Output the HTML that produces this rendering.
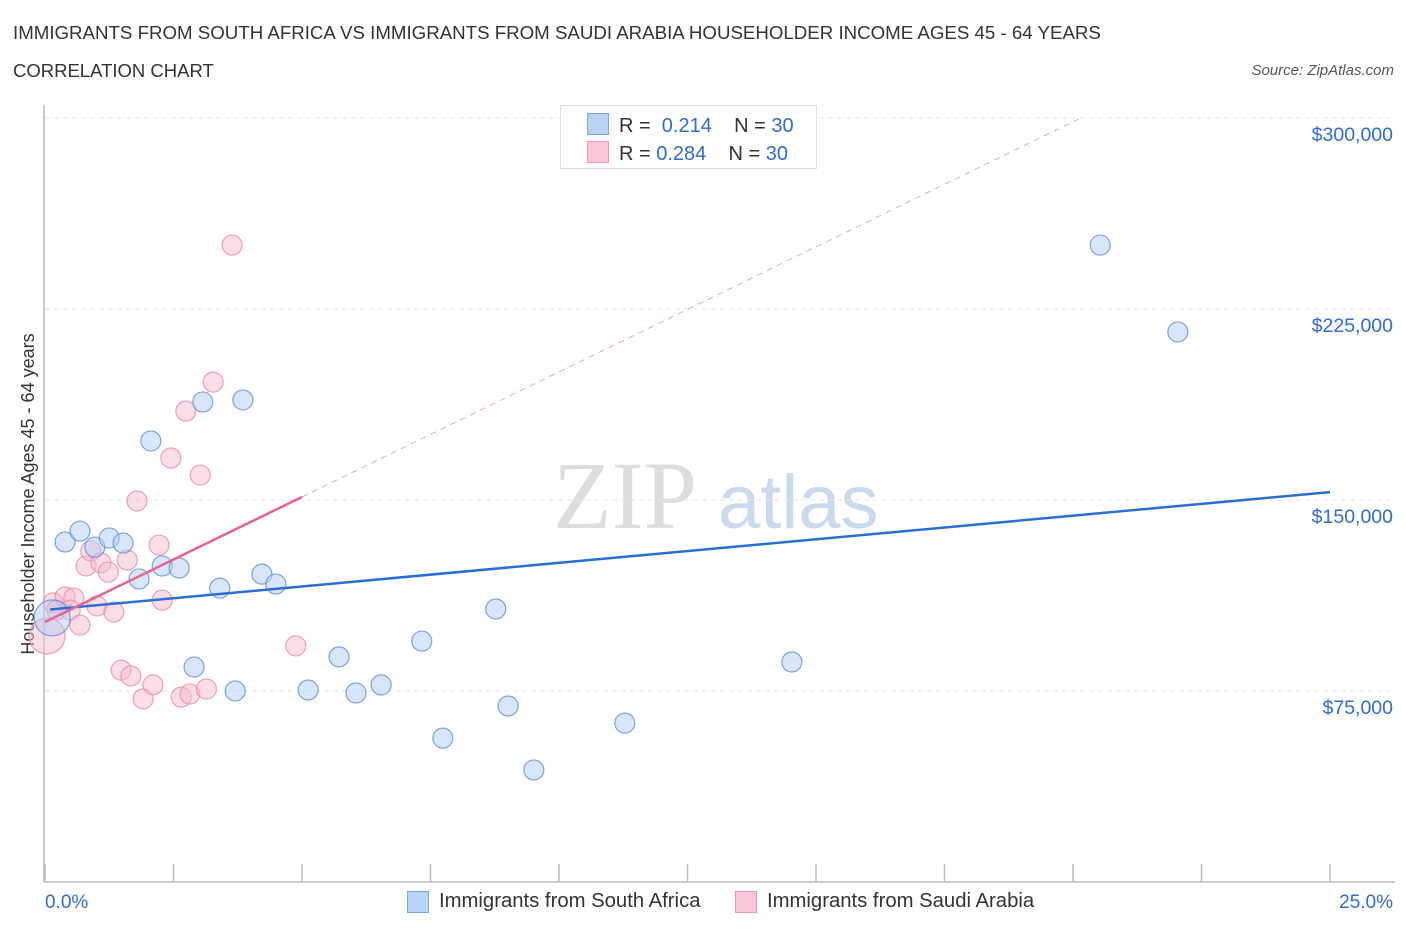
<!DOCTYPE html>
<html><head><meta charset="utf-8"><style>
body{margin:0;background:#fff;font-family:"Liberation Sans",sans-serif;}
#wrap{position:relative;width:1406px;height:930px;overflow:hidden;}
.sw{position:absolute;width:20px;height:20px;}
</style></head><body>
<div id="wrap">
<div style="position:absolute;left:13px;top:22px;font-size:18.7px;color:#333;">IMMIGRANTS FROM SOUTH AFRICA VS IMMIGRANTS FROM SAUDI ARABIA HOUSEHOLDER INCOME AGES 45 - 64 YEARS</div>
<div style="position:absolute;left:13px;top:60px;font-size:18.5px;color:#333;">CORRELATION CHART</div>
<div style="position:absolute;right:12px;top:62px;font-size:15px;color:#555;font-style:italic;">Source: ZipAtlas.com</div>
<svg id="plot" width="1406" height="930" style="position:absolute;left:0;top:0">
<text x="553" y="528" font-family="Liberation Serif,serif" font-size="96" fill="#ddd">ZIP</text>
<text x="718" y="528" font-family="Liberation Sans,sans-serif" font-size="76" fill="#c9d9ee">atlas</text>
<text transform="translate(34,494) rotate(-90)" text-anchor="middle" font-size="18" fill="#333">Householder Income Ages 45 - 64 years</text>
</svg>
<div style="position:absolute;left:560px;top:105px;width:255px;height:62px;border:1px solid #ddd;background:#fff;font-size:20px;color:#333;">
 <div style="position:absolute;left:26px;top:7px;white-space:pre;"><span style="display:inline-block;width:20px;height:20px;background:#b9d3f5;border:1px solid #7aa6e4;vertical-align:-3px;margin-right:10px"></span>R =  <span style="color:#2f6bd1">0.214</span>    N = <span style="color:#2f6bd1">30</span></div>
 <div style="position:absolute;left:26px;top:35px;white-space:pre;"><span style="display:inline-block;width:20px;height:20px;background:#f9c8d6;border:1px solid #ec95ae;vertical-align:-3px;margin-right:10px"></span>R = <span style="color:#2f6bd1">0.284</span>    N = <span style="color:#2f6bd1">30</span></div>
</div>
<div style="position:absolute;left:0;top:0;font-size:20.3px;color:#333;">
 <div class="sw" style="left:407px;top:891px;background:#b9d3f5;border:1px solid #7aa6e4;"></div>
 <div style="position:absolute;left:439px;top:890px;white-space:nowrap;">Immigrants from South Africa</div>
 <div class="sw" style="left:735px;top:891px;background:#f9c8d6;border:1px solid #ec95ae;"></div>
 <div style="position:absolute;left:767px;top:890px;white-space:nowrap;">Immigrants from Saudi Arabia</div>
</div>
</div>
<script>
const yTicks=[75000,150000,225000,300000];
const yTickLabels=["$75,000","$150,000","$225,000","$300,000"];
const xTickLabels=["0.0%","25.0%"];
const blueX=[0.14,0.39,0.68,0.97,1.25,1.52,1.83,2.06,2.28,2.61,2.90,3.07,3.40,3.70,3.85,4.22,4.49,5.12,5.72,6.05,6.54,7.33,7.74,8.77,9.01,9.51,11.28,14.53,20.53,22.04];
const blueY=[103700,133500,137800,131500,135100,133100,119000,173200,124100,123300,84400,188500,115400,75000,189300,120900,117000,75400,88400,74200,77400,94600,56500,107200,69100,44000,62400,86400,250100,216000];
const pinkX=[0.04,0.16,0.23,0.39,0.56,0.49,0.68,0.80,0.89,1.01,1.09,1.23,1.34,1.48,1.60,1.67,1.79,1.91,2.10,2.22,2.28,2.45,2.65,2.74,2.82,3.02,3.14,3.27,3.64,4.88];
const pinkY=[96600,109600,106800,111900,111500,106800,100900,124100,130000,108400,125300,121700,106000,83200,126400,80900,149600,71900,77400,132300,110700,166500,72600,184900,73800,159800,75800,196300,250100,92700];
const blueFit=[106800,1852];
const pinkFit=[102100,9820];
const NS="http://www.w3.org/2000/svg";
const svg=document.getElementById('plot');
const X=v=>45+v/25*1285;
const Y=v=>882-v*191/75000;
function mk(t,a){const e=document.createElementNS(NS,t);for(const k in a)e.setAttribute(k,a[k]);svg.appendChild(e);return e;}
yTicks.forEach((t,i)=>{
 const g=mk('line',{x1:45,x2:1395,y1:Y(t),y2:Y(t),stroke:'#e4e4e4','stroke-dasharray':'5,4'});
 
 
 const l=mk('text',{x:1393,y:Y(t)+23,'text-anchor':'end','font-size':19.5,fill:'#2f6bd1'});
 l.textContent=yTickLabels[i];
 
 
});
let a=mk('line',{x1:44,x2:44,y1:105,y2:882,stroke:'#bbb','stroke-width':1.5});


a=mk('line',{x1:44,x2:1395,y1:882,y2:882,stroke:'#bbb','stroke-width':1.5});


for(let i=0;i<=10;i++){const t=mk('line',{x1:X(i*2.5),x2:X(i*2.5),y1:864,y2:882,stroke:'#bbb','stroke-width':1.5});
 
 }
let t=mk('text',{x:45,y:908,'font-size':19,fill:'#2f6bd1'});t.textContent=xTickLabels[0];


t=mk('text',{x:1393,y:908,'text-anchor':'end','font-size':19,fill:'#2f6bd1'});t.textContent=xTickLabels[1];


function pts(xs,ys,fill,stroke,name){xs.forEach((x,i)=>{
 const r=i===0?18:10;
 const c=mk('circle',{cx:X(x),cy:Y(ys[i]),r:r,fill:fill,'fill-opacity':0.5,stroke:stroke,'stroke-width':1.2,'stroke-opacity':0.8});
 
 });}
pts(pinkX,pinkY,'#f7bccd','#e98aa7','saudi-arabia-point');
pts(blueX,blueY,'#b3cef3','#5b8fdc','south-africa-point');
const bx0=0.1,bx1=25;
let l=mk('line',{x1:X(bx0),y1:Y(blueFit[0]+blueFit[1]*bx0),x2:X(bx1),y2:Y(blueFit[0]+blueFit[1]*bx1),stroke:'#2b6fd6','stroke-width':2.5});


const px1=(300000-pinkFit[0])/pinkFit[1];
l=mk('line',{x1:X(5),y1:Y(pinkFit[0]+pinkFit[1]*5),x2:X(px1),y2:Y(300000),stroke:'#eeaabd','stroke-width':1,'stroke-dasharray':'6,5'});


l=mk('line',{x1:X(0),y1:Y(pinkFit[0]),x2:X(5),y2:Y(pinkFit[0]+pinkFit[1]*5),stroke:'#e8648c','stroke-width':2.5});


</script>
</body></html>
